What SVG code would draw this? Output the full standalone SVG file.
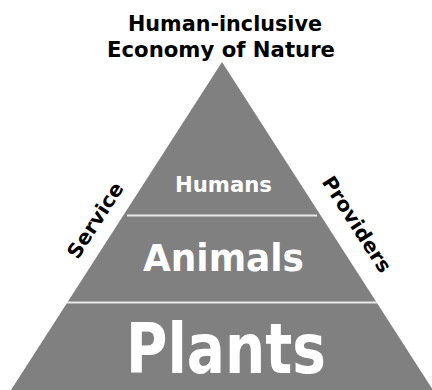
<svg xmlns="http://www.w3.org/2000/svg" width="432" height="390" viewBox="0 0 432 390">
<style>
.t{font-family:"DejaVu Sans","Liberation Sans",Arial,sans-serif;font-weight:bold;text-anchor:middle}
.w{fill:#ffffff}
.k{fill:#000000}
.div{stroke:#e8e8e8;stroke-width:2;fill:none}
</style>
<rect width="432" height="390" fill="#ffffff"/>
<g id="pyramid">
<polygon points="222,62 11,390 433,390" fill="#808080"/>
</g>
<g id="connectors">
<line class="div" x1="127" y1="215.5" x2="317" y2="215.5"/>
<line class="div" x1="67" y1="302.5" x2="377" y2="302.5"/>
</g>
<g id="title">
<text class="t k" x="225" y="30.5" font-size="21" textLength="194" lengthAdjust="spacingAndGlyphs">Human-inclusive</text>
<text class="t k" x="221" y="57" font-size="21" textLength="228" lengthAdjust="spacingAndGlyphs">Economy of Nature</text>
</g>
<g id="humans"><text class="t w" x="223.5" y="192" font-size="21.5" textLength="97" lengthAdjust="spacingAndGlyphs">Humans</text></g>
<g id="animals"><text class="t w" x="223.5" y="270.5" font-size="37" textLength="161" lengthAdjust="spacingAndGlyphs">Animals</text></g>
<g id="plants"><text class="t w" x="226" y="372.5" font-size="70" textLength="200" lengthAdjust="spacingAndGlyphs">Plants</text></g>
<g id="service"><text class="t k" font-size="20" textLength="86" lengthAdjust="spacingAndGlyphs" transform="translate(101,224) rotate(-57.2)">Service</text></g>
<g id="providers"><text class="t k" font-size="20" textLength="110" lengthAdjust="spacingAndGlyphs" transform="translate(351,228) rotate(57.2)">Providers</text></g>
</svg>
